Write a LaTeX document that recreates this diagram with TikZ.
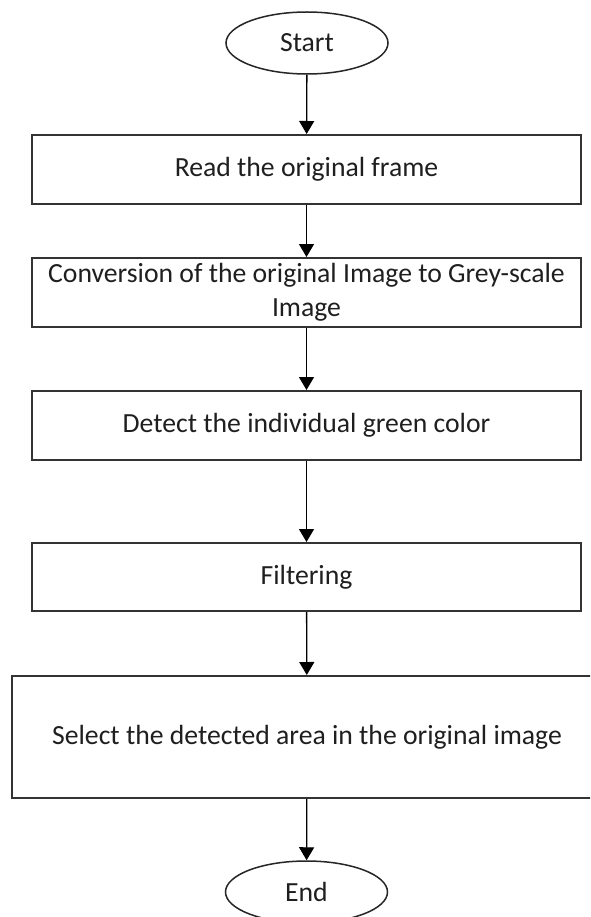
\documentclass[tikz,border=0pt]{standalone}
\usepackage{fontspec}
\setmainfont{Carlito}
\usetikzlibrary{shapes.geometric,arrows.meta}

\begin{document}
\begin{tikzpicture}[x=1pt,y=-1pt,
  every node/.style={font=\fontsize{27.7}{33.5}\selectfont, text=black!88, inner sep=0pt},
  terminal/.style={ellipse, draw=black!85, line width=1.5pt, minimum width=162pt, minimum height=62pt},
  stepbox/.style={rectangle, draw=black!80, line width=2pt, minimum width=549pt, minimum height=69pt, align=center},
  flow/.style={line width=1.3pt, -{Triangle[width=15pt,length=13pt]}}
]
\useasboundingbox (0,0) rectangle (590,917);
\clip (0,0) rectangle (590,917);
\fill[white] (0,0) rectangle (590,917);

\node[terminal] (start) at (307,43) {Start};
\node[stepbox] (read) at (306.5,169.5) {Read the original frame};
\node[stepbox] (grey) at (306.5,292.5) {Conversion of the original Image to Grey-scale\\Image};
\node[stepbox] (detect) at (306.5,425.5) {Detect the individual green color};
\node[stepbox, minimum height=68pt] (filter) at (306.5,577) {Filtering};
\node[stepbox, minimum width=590pt, minimum height=122pt] (select) at (307,737) {Select the detected area in the original image};
\node[terminal] (end) at (306.5,892) {End};

\draw[flow] (start) -- (read);
\draw[flow] (read) -- (grey);
\draw[flow] (grey) -- (detect);
\draw[flow] (detect) -- (filter);
\draw[flow] (filter) -- (select);
\draw[flow] (select) -- (end);
\end{tikzpicture}
\end{document}
